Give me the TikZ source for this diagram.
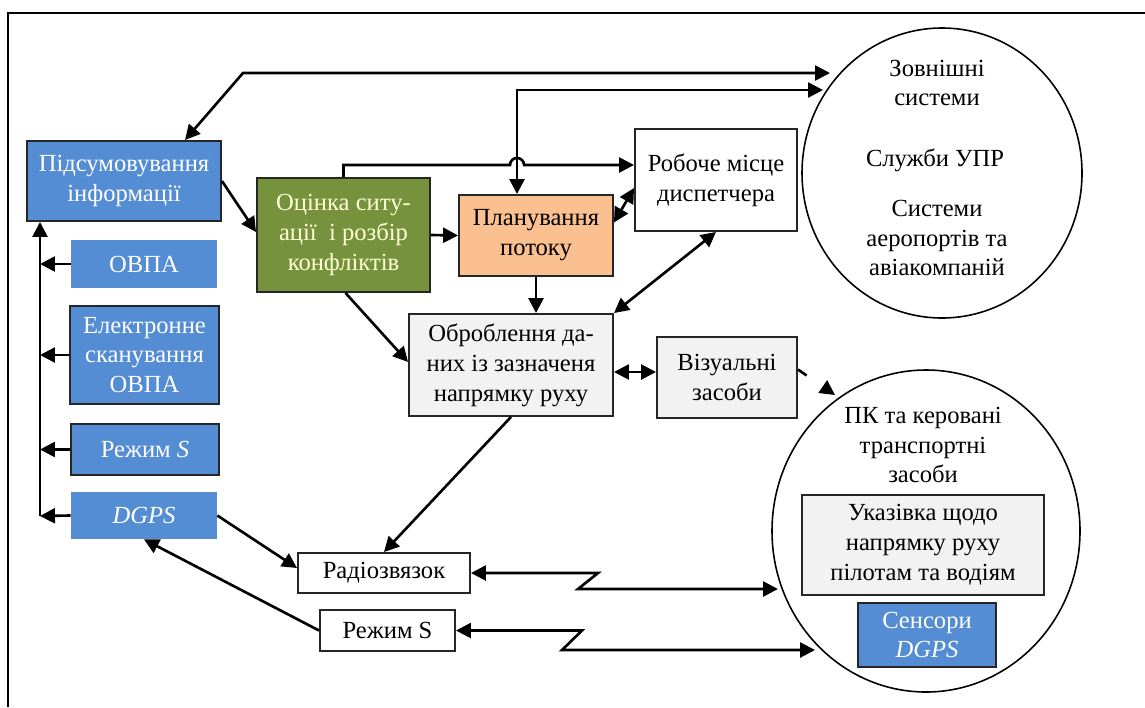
\documentclass[tikz,border=0pt]{standalone}
\usepackage{fontspec}
\setmainfont{Liberation Serif}
\usetikzlibrary{arrows.meta,shapes.geometric,calc}
\definecolor{bblue}{RGB}{84,141,212}
\definecolor{ggreen}{RGB}{118,146,60}
\definecolor{ppeach}{RGB}{250,192,144}
\definecolor{lgray}{RGB}{242,242,242}
\definecolor{lyel}{RGB}{255,255,214}
\begin{document}
\begin{tikzpicture}[x=0.02cm,y=-0.02cm,
  every node/.style={font=\fontsize{14}{17}\selectfont, align=center, inner sep=0pt},
  sz/.style 2 args={minimum width=#1*0.02cm, minimum height=#2*0.02cm},
  box/.style={draw=black!85, line width=1.1pt, rectangle},
  flat/.style={rectangle},
  ln/.style={line width=1.5pt, black},
  tip/.tip={Triangle[length=8.5pt,width=8.5pt]},
  arr/.style={ln, -tip},
  barr/.style={ln, tip-tip},
  circ/.style={ellipse, draw, line width=0.9pt}]
\useasboundingbox (0,0) rectangle (1145,707);
\draw[line width=0.9pt] (1145,13) -- (8,13) -- (8,707);

% circles
\node[circ, sz={280}{290}] (ext) at (942,173) {};
\node at (937,83) {Зовнішні\\системи};
\node at (935,160) {Служби УПР};
\node at (937,238) {Системи\\аеропортів та\\авіакомпаній};
\node[circ, sz={308}{322}] (pk) at (926,531) {};
\node at (923,445) {ПК та керовані\\транспортні\\засоби};
\node[box, fill=lgray, sz={242}{100}] (ukaz) at (923,545) {Указівка щодо\\напрямку руху\\пілотам та водіям};
\node[box, fill=bblue, text=white, sz={138}{64}] (sens) at (927,635) {Сенсори\\\textit{DGPS}};

% left column
\node[box, fill=bblue, text=white, sz={194}{80}] (sum) at (124,181) {Підсумовування\\інформації};
\node[flat, fill=bblue, text=white, sz={146}{48}] (ovpa) at (144,264) {ОВПА};
\node[box, fill=bblue, text=white, sz={149}{98}] (escan) at (144.5,355) {Електронне\\сканування\\ОВПА};
\node[box, fill=bblue, text=white, sz={148}{51}] (rezh1) at (145,449.5) {Режим \textit{S}};
\node[flat, fill=bblue, text=white, sz={146}{47}] (dgps) at (144,515.5) {\textit{DGPS}};

% middle
\node[box, fill=ggreen, text=lyel, sz={173}{114}] (ocinka) at (343.5,235) {Оцінка ситу-\\ації~~і розбір\\конфліктів};
\node[box, fill=ppeach, sz={154}{81}] (plan) at (536,235.5) {Планування\\потоку};
\node[box, fill=white, sz={162}{102}] (robo) at (716,180) {Робоче місце\\диспетчера};
\node[box, fill=lgray, sz={204}{102}] (obr) at (511,365) {Оброблення да-\\них із зазначеня\\напрямку руху};
\node[box, fill=lgray, sz={140}{81}] (viz) at (727,377.5) {Візуальні\\засоби};
\node[box, fill=white, sz={172}{40}] (radio) at (384,573) {Радіозвязок};
\node[box, fill=white, sz={135}{41}] (rezh2) at (387.5,630.5) {Режим S};

% coordinates
\coordinate (bus) at (40,516);
\coordinate (extA) at (830,73);
\coordinate (extB) at (823,90);
\coordinate (pkV) at (835,395);
\coordinate (pkA) at (778,589);
\coordinate (pkB) at (815,650);

% left bus
\draw[arr] (ovpa.west) -- (ovpa.west -| bus);
\draw[arr] (escan.west) -- (escan.west -| bus);
\draw[arr] (rezh1.west) -- (rezh1.west -| bus);
\draw[arr] (dgps.west) -- (bus);
\draw[arr] (bus) -- (bus |- sum.south);

% top connectors
\draw[barr] (extA) -- (243,73) -- ($(sum.north)+(61,0)$);
\draw[barr] ($(plan.north)+(-19,0)$) -- (517,90) -- (extB);
\draw[arr] (ocinka.north) -- (ocinka.north |- 0,165) -- (510,165)
  arc[start angle=180, end angle=0, radius=4pt] -- ($(robo.west)+(0,-15)$);

% middle connectors
\draw[arr] (sum.east) -- ($(ocinka.west)+(0,-3)$);
\draw[arr] (ocinka.east) -- (plan.west);
\draw[barr] ($(plan.east)+(0,-13)$) -- ($(robo.west)+(0,8)$);
\draw[arr] (plan.south) -- (plan.south |- obr.north);
\draw[barr] (robo.south) -- (obr.north east);
\draw[arr] ($(ocinka.south)+(2,0)$) -- ($(obr.west)+(0,-3)$);
\draw[barr] ($(obr.east)+(0,7)$) -- ($(viz.west)+(0,-5.5)$);
\draw[arr, dash pattern=on 6pt off 30pt] ($(viz.east)+(0,-8)$) -- (pkV);
\draw[arr] (obr.south) -- (radio.north);

% bottom connectors
\draw[arr] (dgps.east) -- ($(radio.west)+(0,-5)$);
\draw[arr] (rezh2.west) -- (dgps.south);
\draw[barr] (radio.east) -- (598,573) -- (578,589) -- (pkA);
\draw[barr] (rezh2.east) -- (582,630.5) -- (562,650) -- (pkB);
\end{tikzpicture}
\end{document}
